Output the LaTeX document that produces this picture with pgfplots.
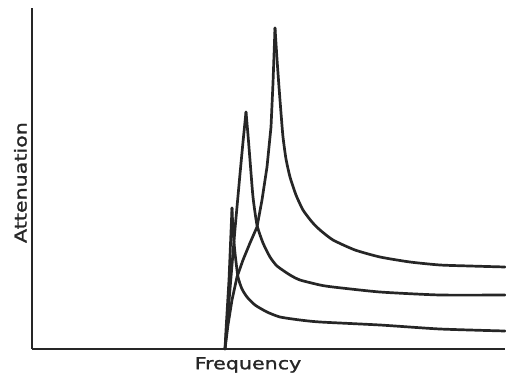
\documentclass[border=0pt]{standalone}
\usepackage{fontspec}
\setmainfont{DejaVu Sans}
\newfontfamily\lab[FakeStretch=1.25,FakeBold=1.5]{DejaVu Sans}
\usepackage{pgfplots}
\pgfplotsset{compat=1.18}
\tikzset{crv/.style={line width=2.7pt, black!85, line join=round, line cap=round, mark=none}}
\begin{document}
\begin{tikzpicture}[x=1pt,y=1pt]
\begin{axis}[
  at={(0,0)}, anchor=south west,
  scale only axis, width=473pt, height=341pt,
  xmin=32, xmax=505, ymin=0, ymax=341,
  axis x line=bottom, axis y line=left,
  axis line style={-, line width=2.6pt, black!85},
  xtick=\empty, ytick=\empty,
  xlabel={Frequency}, ylabel={Attenuation},
  xlabel style={at={(axis description cs:0.4567,0)}, anchor=north, inner sep=0pt, yshift=-8pt, font=\lab\fontsize{16.5}{20}\selectfont, text=black!85},
  ylabel style={at={(axis description cs:-0.0106,0.488)}, anchor=south, inner sep=0pt, font=\lab\fontsize{16.5}{20}\selectfont, text=black!85},
  clip=false,
]
% tallest curve
\addplot[crv] coordinates {(225,0) (228,24) (232,49) (237,72) (243,89) (250,106) (257,122) (262,149) (267,182) (271,222) (273,266) (275,321)};
\addplot[crv, smooth, tension=0.35] coordinates {(275,321) (277,290) (279,262) (281,236) (283,212) (286,190) (290,172) (296,154) (303,139) (312,127) (320,119) (333,109) (355,99) (380,92) (410,87) (440,84) (470,83) (505,82)};
% middle curve
\addplot[crv] coordinates {(225,0) (230,60) (235,120) (240,175) (243,207) (246,237)};
\addplot[crv, smooth, tension=0.35] coordinates {(246,237) (248,214) (250,189) (253,152) (257,124) (263,106) (270,92) (277,83) (290,74) (300,69) (320,64) (333,62) (380,57) (440,54) (505,54)};
% lowest curve
\addplot[crv] coordinates {(225,0) (226,19) (229,69) (232,141)};
\addplot[crv, smooth, tension=0.35] coordinates {(232,141) (233,119) (235,96) (238,72) (242,60) (247,52) (255,44) (267,37) (280,32) (300,29) (320,27) (380,24) (440,20) (505,18)};
\end{axis}
\pgfresetboundingbox
\path[use as bounding box] (-32,-27) rectangle (474,349);
\end{tikzpicture}
\end{document}
